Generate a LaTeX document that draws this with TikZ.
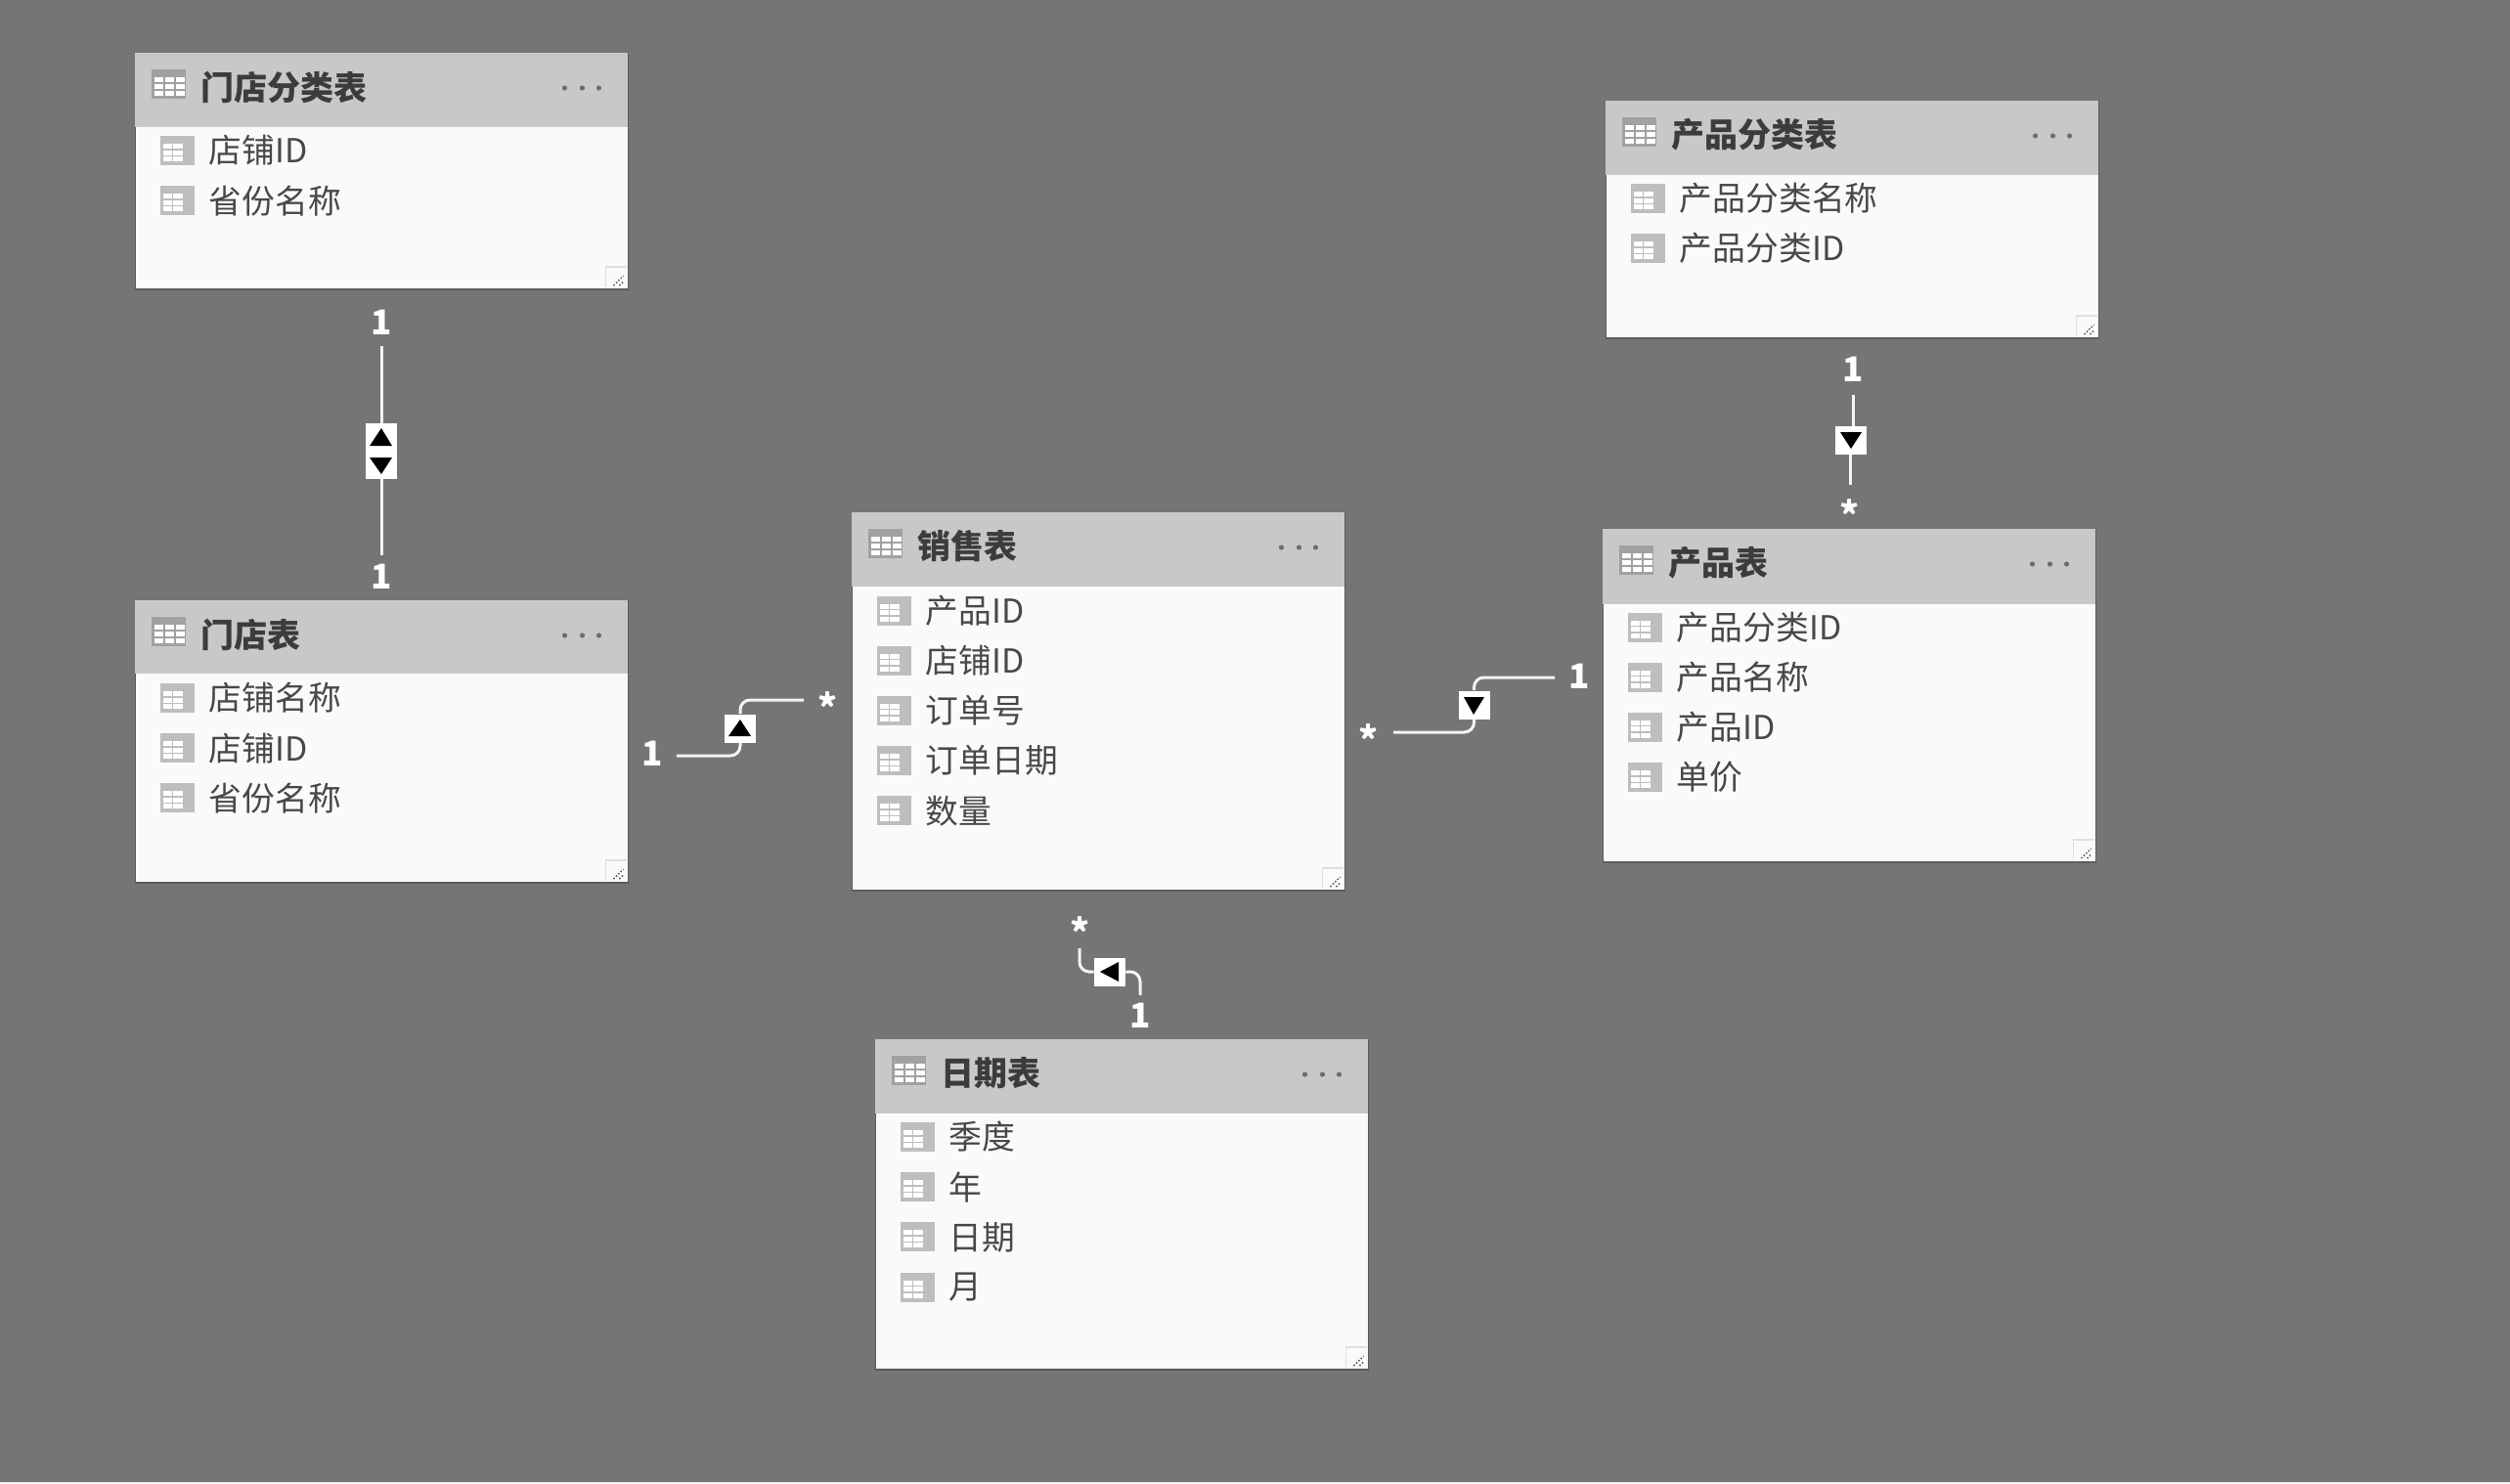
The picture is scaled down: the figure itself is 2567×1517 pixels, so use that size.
\documentclass[tikz,border=0pt]{standalone}
\usepackage{fontspec}
\setmainfont{Noto Sans CJK SC}
\usetikzlibrary{positioning}

\definecolor{canvasgray}{HTML}{757575}
\definecolor{headgray}{HTML}{C8C8C8}
\definecolor{bodywhite}{HTML}{FAFAFA}
\definecolor{edgegray}{HTML}{5C5C5C}
\definecolor{icongray}{HTML}{BEBEBE}
\definecolor{titleink}{HTML}{3C3C3C}
\definecolor{fieldink}{HTML}{484848}
\definecolor{lineink}{HTML}{F4F4F4}

\tikzset{
    tablebox/.style={draw=edgegray, line width=0.8pt, fill=bodywhite, anchor=north west,
        inner sep=0pt, minimum width=252pt},
    tablehead/.style={fill=headgray, anchor=north west, inner sep=0pt, minimum width=252pt},
    tabletitle/.style={anchor=west, inner sep=0pt, text=titleink, font=\fontsize{17}{20}\selectfont\bfseries},
    fieldname/.style={anchor=west, inner sep=0pt, text=fieldink, font=\fontsize{16.9}{20}\selectfont},
    relline/.style={draw=lineink, line width=1.5pt, rounded corners=5pt},
    relbadge/.style={fill=white, inner sep=0pt, minimum width=16pt, minimum height=14.5pt},
    relmark/.style={inner sep=0pt, text=white, font=\fontsize{17.5}{20}\selectfont\bfseries},
    relstar/.style={relmark, font=\fontsize{19}{20}\selectfont\bfseries},
}

\begin{document}
\begin{tikzpicture}[x=0.5pt, y=-0.5pt]

    % Canvas
    \fill[canvasgray] (0,0) rectangle (2567,1517);
    \fill[white!85!gray] (0,1515.5) rectangle (2567,1517);
    \useasboundingbox (0,0) rectangle (2567,1517);

    % Tables: name / left / top / height / header / row start / title / fields
    \foreach \tname/\tx/\ty/\th/\thh/\trow/\ttitle/\tfields in {
        shopclass/137.5/54/241/76/100/门店分类表/{店铺ID,省份名称},
        prodclass/1641.5/103/242/76/100/产品分类表/{产品分类名称,产品分类ID},
        shop/137.5/614/288/75/100/门店表/{店铺名称,店铺ID,省份名称},
        sales/870.5/524/386/76/100.5/销售表/{产品ID,店铺ID,订单号,订单日期,数量},
        product/1638.5/541/340/77/100.5/产品表/{产品分类ID,产品名称,产品ID,单价},
        date/894.5/1063/337/76/100/日期表/{季度,年,日期,月}} {

        % Box and header
        \node[tablebox, minimum height=\th*0.5pt] (\tname) at (\tx,\ty) {};
        \node[tablehead, minimum height=\thh*0.5pt] (\tname head) at (\tx,\ty) {};

        % Header icon
        \fill[icongray!85!black] (\tx+17,\ty+17) rectangle (\tx+52,\ty+47);
        \foreach \r in {0,1,2}
            \foreach \c in {0,1,2}
                \fill[white] (\tx+20+\c*11,\ty+25+\r*7) rectangle (\tx+29+\c*11,\ty+30+\r*7);

        \node[tabletitle] (\tname title) at (\tx+68,\ty+35) {\ttitle};

        % Menu dots
        \foreach \d in {64,46,29}
            \fill[fieldink!80] (\tx+504-\d,\ty+36) circle[radius=2.6];

        % Fields
        \foreach \fname [count=\i from 0] in \tfields {
            \pgfmathsetmacro{\fy}{\ty+\trow+\i*51.2}
            \fill[icongray] (\tx+26,\fy-15) rectangle (\tx+61,\fy+15);
            \fill[white] (\tx+29,\fy-7) rectangle (\tx+49,\fy+12);
            \foreach \r in {0,1,2}
                \fill[icongray] (\tx+29,\fy-2+\r*6.5) rectangle (\tx+49,\fy-0.5+\r*6.5);
            \fill[icongray] (\tx+38,\fy-7) rectangle (\tx+39.5,\fy+12);
            \node[fieldname] (\tname field\i) at (\tx+76,\fy) {\fname};
        }

        % Resize grip
        \draw[white!75!gray, line width=0.6pt] (\tx+482,\ty+\th-1) -- (\tx+482,\ty+\th-22) -- (\tx+503,\ty+\th-22);
        \draw[fieldink, line width=0.7pt, densely dotted] (\tx+490,\ty+\th-3) -- (\tx+500,\ty+\th-13);
        \draw[fieldink, line width=0.7pt, densely dotted] (\tx+496,\ty+\th-3) -- (\tx+500,\ty+\th-7);
    }

    % Cardinality marks
    \node[relmark] (oneA) at (390,329.5) {1};
    \node[relmark] (oneB) at (390,589.5) {1};
    \node[relmark] (oneC) at (667,770.5) {1};
    \node[relstar] (manyC) at (847,723) {*};
    \node[relstar] (manyD) at (1105,953) {*};
    \node[relmark] (oneD) at (1166,1038.5) {1};
    \node[relstar] (manyE) at (1400,756) {*};
    \node[relmark] (oneE) at (1615,691.5) {1};
    \node[relmark] (oneF) at (1895,377.5) {1};
    \node[relstar] (manyF) at (1892,526) {*};

    % Badges
    \node[relbadge, minimum height=28.5pt] (badgeA) at (390,461.5) {};
    \node[relbadge] (badgeC) at (757,745) {};
    \node[relbadge] (badgeD) at (1135,994) {};
    \node[relbadge] (badgeE) at (1507.5,721) {};
    \node[relbadge] (badgeF) at (1893,450.5) {};

    % Free line ends
    \coordinate (endA1) at (390,354);
    \coordinate (endA2) at (390,568);
    \coordinate (endC1) at (692,773);
    \coordinate (endC2) at (822,716);
    \coordinate (endD1) at (1104,970);
    \coordinate (endD2) at (1166,1018);
    \coordinate (endE1) at (1425,749);
    \coordinate (endE2) at (1590,693);
    \coordinate (endF1) at (1895,404);
    \coordinate (endF2) at (1892,496);

    % Connectors
    \draw[relline] (endA1) -- (badgeA.north);
    \draw[relline] (badgeA.south) -- (endA2);
    \draw[relline] (endC1) -| (badgeC.south);
    \draw[relline] (badgeC.north) |- (endC2);
    \draw[relline] (endD1) |- (badgeD.west);
    \draw[relline] (badgeD.east) -| (endD2);
    \draw[relline] (endE1) -| (badgeE.south);
    \draw[relline] (badgeE.north) |- (endE2);
    \draw[relline] (endF1) -- (endF1 |- badgeF.north);
    \draw[relline] (endF2 |- badgeF.south) -- (endF2);

    % Direction arrows
    \fill (390,438) -- (401,456) -- (378,456) -- cycle;
    \fill (390,485) -- (401,468) -- (378,468) -- cycle;
    \fill (757,736) -- (768,753) -- (745,753) -- cycle;
    \fill (1125,994) -- (1144,984) -- (1144,1004) -- cycle;
    \fill (1507,731) -- (1518,713) -- (1497,713) -- cycle;
    \fill (1893,459) -- (1904,442) -- (1882,442) -- cycle;

\end{tikzpicture}
\end{document}
